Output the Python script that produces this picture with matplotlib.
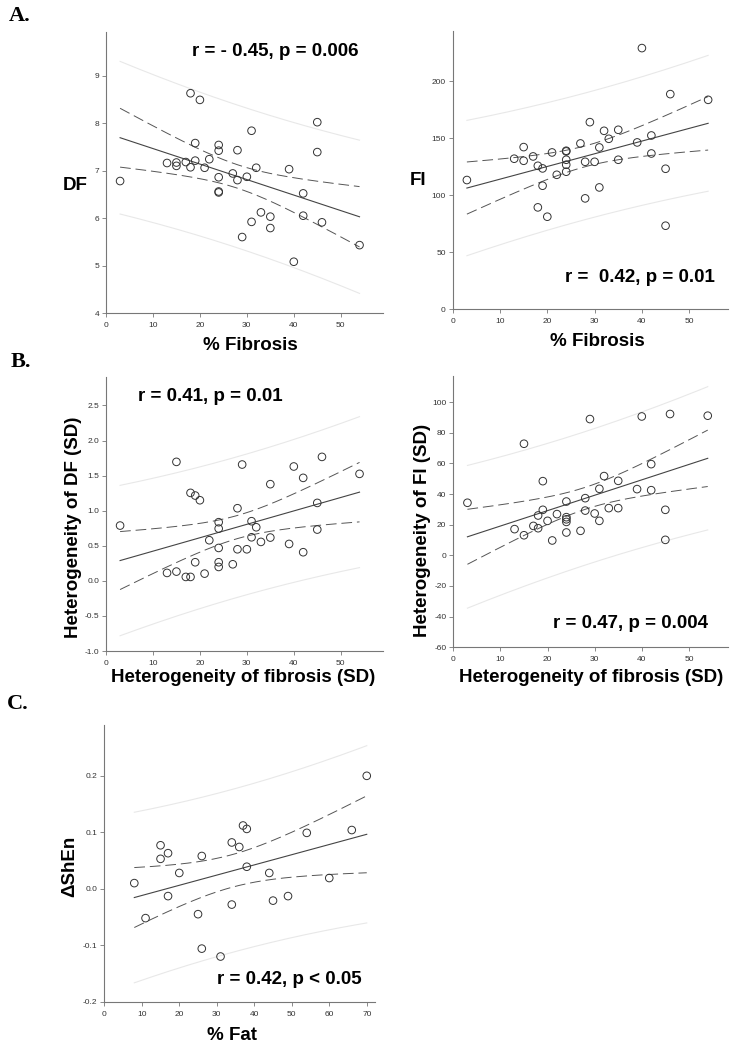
import numpy as np
import matplotlib
matplotlib.use("Agg")
import matplotlib.pyplot as plt

# ---------------- data ----------------
fibrosis = [3, 13, 15, 15, 17, 18, 18, 19, 19, 20, 21, 22, 24, 24, 24, 24, 24,
            27, 28, 28, 29, 30, 31, 31, 32, 33, 35, 35, 39, 40, 42, 42, 45, 45, 46, 54]
df_vals = [6.78, 7.16, 7.17, 7.10, 7.18, 8.63, 7.07, 7.58, 7.21, 8.49, 7.06, 7.24,
           7.54, 7.42, 6.86, 6.56, 6.54, 6.94, 7.43, 6.80, 5.60, 6.87, 7.84, 5.92,
           7.06, 6.12, 6.03, 5.79, 7.03, 5.08, 6.52, 6.05, 8.02, 7.39, 5.91, 5.43]
fi_vals = [113.2, 131.9, 142.1, 130.1, 133.9, 125.7, 89.2, 123.4, 108.2, 81.0, 137.4,
           117.8, 138.9, 138.3, 131.0, 126.6, 120.5, 145.3, 129.2, 97.1, 164.0, 129.2,
           141.8, 106.7, 156.4, 149.4, 157.3, 131.0, 146.2, 229.0, 152.3, 136.5,
           123.1, 73.1, 188.6, 183.6]

het_fibrosis = [3, 13, 15, 15, 17, 18, 18, 19, 19, 20, 21, 22, 24, 24, 24, 24, 24,
                27, 28, 28, 29, 30, 31, 31, 32, 33, 35, 35, 39, 40, 42, 42, 45, 45, 46, 54]
het_df = [0.788, 0.113, 1.696, 0.132, 0.056, 1.254, 0.056, 1.216, 0.265, 1.149, 0.103,
          0.579, 0.836, 0.745, 0.469, 0.265, 0.198, 0.236, 1.035, 0.450, 1.658, 0.450,
          0.850, 0.621, 0.764, 0.555, 1.378, 0.617, 0.526, 1.630, 1.468, 0.408,
          1.111, 0.731, 1.767, 1.525]
het_fi = [34.3, 17.1, 72.8, 13.1, 19.2, 26.0, 17.7, 48.4, 29.7, 22.5, 9.7, 26.9,
          35.1, 24.9, 21.8, 14.9, 23.5, 16.0, 37.3, 29.2, 88.9, 27.3, 43.4, 22.5,
          51.7, 30.8, 48.6, 30.8, 43.2, 90.6, 59.5, 42.5, 29.7, 10.1, 92.2, 91.1]

fat = [8, 11, 15, 15, 17, 17, 20, 25, 26, 26, 31, 34, 34, 36, 37, 38, 38, 44, 45,
       49, 54, 60, 66, 70]
d_shen = [0.010, -0.052, 0.077, 0.053, 0.063, -0.013, 0.028, -0.045, 0.058, -0.106,
          -0.120, 0.082, -0.028, 0.074, 0.112, 0.106, 0.039, 0.028, -0.021, -0.013,
          0.099, 0.019, 0.104, 0.200]

# t critical values (95%, two-sided)
T_CRIT = {34: 2.0322, 22: 2.0739}

plt.rcParams['font.family'] = ['Liberation Sans', 'DejaVu Sans']

fig = plt.figure(figsize=(7.35, 10.5), dpi=100)
W, H = 735.0, 1050.0


def add_axes_px(left, right, bottom, top):
    return fig.add_axes([left / W, 1 - bottom / H, (right - left) / W, (bottom - top) / H])


def panel(ax, x, y, xlim, ylim, yticks, xticks, yfmt):
    x = np.asarray(x, float)
    y = np.asarray(y, float)
    n = len(x)
    b, a = np.polyfit(x, y, 1)
    res = y - (a + b * x)
    s = np.sqrt(np.sum(res ** 2) / (n - 2))
    xm = x.mean()
    sxx = np.sum((x - xm) ** 2)
    t = T_CRIT[n - 2]
    xs = np.linspace(x.min(), x.max(), 200)
    yh = a + b * xs
    ci = t * s * np.sqrt(1.0 / n + (xs - xm) ** 2 / sxx)
    pi = t * s * np.sqrt(1 + 1.0 / n + (xs - xm) ** 2 / sxx)
    ax.plot(xs, yh + pi, color='#e8e8e8', lw=0.8, zorder=1)
    ax.plot(xs, yh - pi, color='#e8e8e8', lw=0.8, zorder=1)
    ax.plot(xs, yh + ci, color='#555555', lw=0.7, dashes=(11, 5), zorder=2)
    ax.plot(xs, yh - ci, color='#555555', lw=0.7, dashes=(11, 5), zorder=2)
    ax.plot(xs, yh, color='#444444', lw=0.8, zorder=2)
    ax.scatter(x, y, s=30, facecolors='none', edgecolors='#333333', linewidths=0.7, zorder=3)
    ax.set_xlim(*xlim)
    ax.set_ylim(*ylim)
    ax.set_xticks(xticks)
    ax.set_yticks(yticks)
    ax.set_yticklabels([yfmt % v for v in yticks])
    for sp in ('top', 'right'):
        ax.spines[sp].set_visible(False)
    for sp in ('left', 'bottom'):
        ax.spines[sp].set_color('#777777')
        ax.spines[sp].set_linewidth(0.8)
    ax.tick_params(axis='both', direction='out', length=3, width=0.6, color='#777777',
                   labelsize=6, labelcolor='#333333')
    ax.tick_params(axis='x', pad=3.5)
    ax.tick_params(axis='y', pad=2)
    ax.set_facecolor('none')


lab = dict(fontsize=13.5, fontweight='bold', color='black')

# Panel A left
ax1 = add_axes_px(106, 383, 313, 32)
panel(ax1, fibrosis, df_vals, (0, 59), (4, 9.92), [4, 5, 6, 7, 8, 9],
      [0, 10, 20, 30, 40, 50], '%d')
# Panel A right
ax2 = add_axes_px(452.7, 728, 309, 31)
panel(ax2, fibrosis, fi_vals, (0, 58.2), (0, 244), [0, 50, 100, 150, 200],
      [0, 10, 20, 30, 40, 50], '%d')
# Panel B left
ax3 = add_axes_px(106, 383, 651, 376.7)
panel(ax3, het_fibrosis, het_df, (0, 59), (-1.0, 2.91),
      [-1.0, -0.5, 0.0, 0.5, 1.0, 1.5, 2.0, 2.5], [0, 10, 20, 30, 40, 50], '%.1f')
# Panel B right
ax4 = add_axes_px(453.3, 728, 647.3, 376)
panel(ax4, het_fibrosis, het_fi, (0, 58.3), (-60, 117),
      [-60, -40, -20, 0, 20, 40, 60, 80, 100], [0, 10, 20, 30, 40, 50], '%d')
# Panel C
ax5 = add_axes_px(104.3, 375, 1001.7, 725)
panel(ax5, fat, d_shen, (0, 72.2), (-0.2, 0.29), [-0.2, -0.1, 0.0, 0.1, 0.2],
      [0, 10, 20, 30, 40, 50, 60, 70], '%.1f')


def ftext(px, py, s, **kw):
    fig.text(px / W, 1 - py / H, s, **kw)


# panel letters
letter = dict(fontsize=16, fontweight='bold', family=['Liberation Serif', 'DejaVu Serif'],
              ha='left', va='center')
ftext(9, 16, 'A.', **letter)
ftext(11, 362, 'B.', **letter)
ftext(7, 704, 'C.', **letter)

# y labels
ftext(75, 186, 'DF', ha='center', va='center', **lab)
ftext(418.5, 180, 'FI', ha='center', va='center', **lab)
ftext(74, 527.5, 'Heterogeneity of DF (SD)', ha='center', va='center', rotation=90, **lab)
ftext(422.5, 530, 'Heterogeneity of FI (SD)', ha='center', va='center', rotation=90, **lab)
ftext(70, 866, '\u0394ShEn', ha='center', va='center', rotation=90, **lab)

# x labels
ftext(250, 346, '% Fibrosis', ha='center', va='center', **lab)
ftext(597, 341, '% Fibrosis', ha='center', va='center', **lab)
ftext(243, 678, 'Heterogeneity of fibrosis (SD)', ha='center', va='center', **lab)
ftext(591, 677, 'Heterogeneity of fibrosis (SD)', ha='center', va='center', **lab)
ftext(232, 1036, '% Fat', ha='center', va='center', **lab)

# statistics annotations
ftext(192, 51, 'r = - 0.45, p = 0.006', ha='left', va='center', **lab)
ftext(565, 278, 'r =  0.42, p = 0.01', ha='left', va='center', **lab)
ftext(138, 396, 'r = 0.41, p = 0.01', ha='left', va='center', **lab)
ftext(553, 623, 'r = 0.47, p = 0.004', ha='left', va='center', **lab)
ftext(217, 979, 'r = 0.42, p < 0.05', ha='left', va='center', **lab)

fig.savefig('out.png', dpi=100, facecolor='white')
